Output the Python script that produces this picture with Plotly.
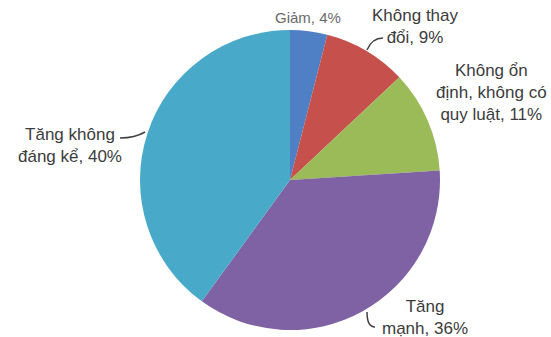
import plotly.graph_objects as go

categories = ["Giảm", "Không thay đổi", "Không ổn định, không có quy luật", "Tăng mạnh", "Tăng không đáng kể"]
values = [4, 9, 11, 36, 40]
label_texts = ["Giảm, 4%", "Không thay<br>đổi, 9%", "Không ổn<br>định, không có<br>quy luật, 11%", "Tăng<br>mạnh, 36%", "Tăng không<br>đáng kể, 40%"]
colors = ["#4F7FC4", "#C5504C", "#9BBB59", "#7E62A4", "#48A9C8"]

W, H = 551, 337
def px(x):
    return x / W
def py(y):
    return 1 - y / H

cx, cy, r = 290, 180, 150

fig = go.Figure(go.Pie(
    labels=categories,
    values=values,
    sort=False,
    direction="clockwise",
    rotation=0,
    textinfo="none",
    hoverinfo="label+percent",
    marker=dict(colors=colors, line=dict(width=0)),
    domain=dict(x=[px(cx - r), px(cx + r)], y=[py(cy + r), py(cy - r)]),
    showlegend=False,
))

# label anchor positions (pixel centres)
label_pos = [(308, 18), (415, 27), (491, 92), (425, 317), (70, 145)]
label_sizes = [15, 17, 17, 17, 17]
label_colors = ["#6a6a6a", "#3c3c3c", "#3c3c3c", "#3c3c3c", "#3c3c3c"]

for t, (x, y), s, c in zip(label_texts, label_pos, label_sizes, label_colors):
    fig.add_annotation(x=px(x), y=py(y), xref="paper", yref="paper", text=t,
                       showarrow=False, xanchor="center", yanchor="middle",
                       font=dict(family="Liberation Sans, Arial", size=s, color=c))

def path(points, curve=False):
    p = "M %f,%f" % (px(points[0][0]), py(points[0][1]))
    if curve:
        p += " Q %f,%f %f,%f" % (px(points[1][0]), py(points[1][1]), px(points[2][0]), py(points[2][1]))
    else:
        for (x, y) in points[1:]:
            p += " L %f,%f" % (px(x), py(y))
    return p

leaders = [
    ([(383, 38), (372, 38), (367, 50)], True),
    ([(120, 138), (135, 138), (145, 132)], True),
    ([(375, 327), (367, 327), (367, 312)], True),
]
for pts, cv in leaders:
    fig.add_shape(type="path", xref="paper", yref="paper", path=path(pts, cv),
                  line=dict(color="#404040", width=1.5))

fig.update_layout(width=W, height=H, margin=dict(l=0, r=0, t=0, b=0),
                  paper_bgcolor="white", plot_bgcolor="white")
fig.write_html("out.html")
